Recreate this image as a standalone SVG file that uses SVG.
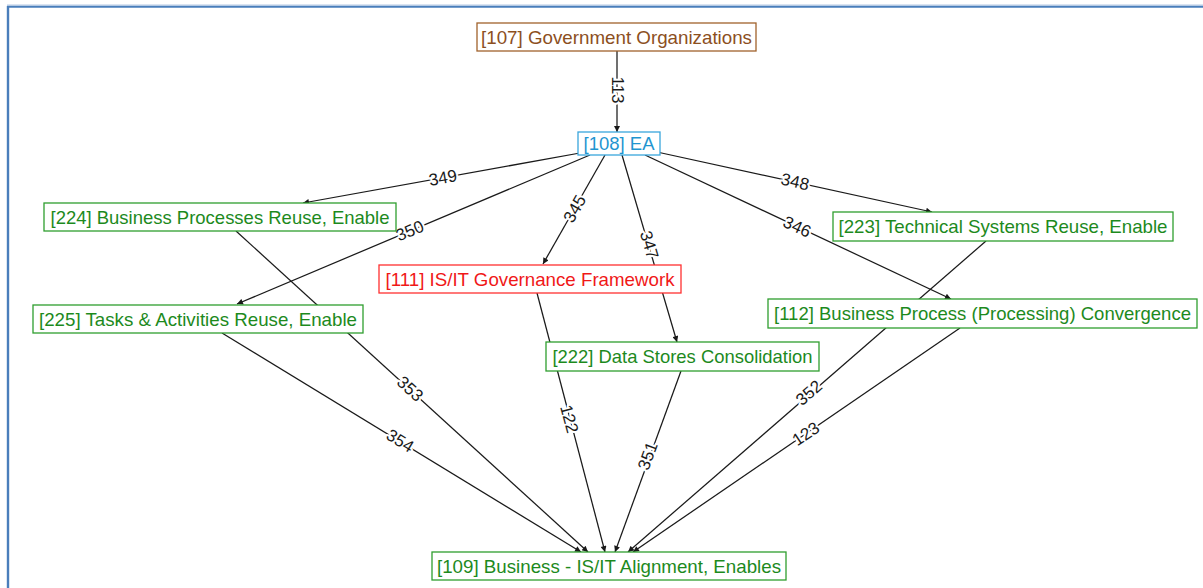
<svg xmlns="http://www.w3.org/2000/svg" width="1203" height="588" viewBox="0 0 1203 588">
  <style>
    .frame { stroke: #4a7ebb; fill: none; }
    .node rect { fill: #ffffff; stroke-width: 1.3; }
    .node text { font-family: "Liberation Sans", Arial, sans-serif; font-size: 18.5px; text-anchor: middle; }
    .brown rect { stroke: #a0622c; } .brown text { fill: #8c4f1e; }
    .blue rect { stroke: #3aa6dc; } .blue text { fill: #1f95d0; }
    .red rect { stroke: #ff3030; } .red text { fill: #f01818; }
    .green rect { stroke: #2f9e2f; } .green text { fill: #1d8a1d; }
    .edge { stroke: #1a1a1a; stroke-width: 1.25; fill: none; marker-end: url(#arrow); }
    .lbl { font-family: "Liberation Sans", Arial, sans-serif; font-size: 17px; fill: #1a1a1a; text-anchor: middle; dominant-baseline: central; stroke: #ffffff; stroke-width: 4; paint-order: stroke; stroke-linejoin: round; }
  </style>
  <defs>
    <marker id="arrow" viewBox="0 0 10 10" refX="10" refY="5" markerWidth="7" markerHeight="6" markerUnits="userSpaceOnUse" orient="auto">
      <path d="M0,0 L10,5 L0,10 z" fill="#1a1a1a"/>
    </marker>
  </defs>

  <rect width="1203" height="588" fill="#ffffff"/>
  <!-- page frame -->
  <line x1="7" y1="5" x2="1203" y2="5" stroke="#b4c8e4" stroke-width="1"/>
  <line class="frame" x1="7" y1="6.8" x2="1203" y2="6.8" stroke-width="2"/>
  <line class="frame" x1="8" y1="6" x2="8" y2="588" stroke-width="2.4"/>

  <g id="connectors">
    <line class="edge" x1="617" y1="51" x2="617" y2="132"/>
    <line class="edge" x1="580" y1="153" x2="303" y2="203"/>
    <line class="edge" x1="590" y1="155" x2="237" y2="304"/>
    <line class="edge" x1="605" y1="155" x2="543" y2="264"/>
    <line class="edge" x1="622" y1="155" x2="677" y2="342"/>
    <line class="edge" x1="657" y1="152" x2="932" y2="212"/>
    <line class="edge" x1="645" y1="155" x2="951" y2="299"/>
    <line class="edge" x1="236" y1="231" x2="588" y2="552"/>
    <line class="edge" x1="222" y1="333" x2="581" y2="552"/>
    <line class="edge" x1="537" y1="293" x2="605" y2="552"/>
    <line class="edge" x1="681" y1="371" x2="615" y2="552"/>
    <line class="edge" x1="986" y1="241" x2="628" y2="552"/>
    <line class="edge" x1="960" y1="328" x2="633" y2="552"/>

    <text class="lbl" transform="translate(617,90) rotate(90)">113</text>
    <text class="lbl" transform="translate(443,178) rotate(-10.2)">349</text>
    <text class="lbl" transform="translate(410,231) rotate(-23)">350</text>
    <text class="lbl" transform="translate(575,209) rotate(-60.4)">345</text>
    <text class="lbl" transform="translate(649,245) rotate(73.6)">347</text>
    <text class="lbl" transform="translate(795,182) rotate(12.3)">348</text>
    <text class="lbl" transform="translate(797,227) rotate(24.7)">346</text>
    <text class="lbl" transform="translate(410,389) rotate(42.3)">353</text>
    <text class="lbl" transform="translate(400,441) rotate(31.3)">354</text>
    <text class="lbl" transform="translate(569,419) rotate(75.2)">122</text>
    <text class="lbl" transform="translate(648,456) rotate(-69.9)">351</text>
    <text class="lbl" transform="translate(809,393) rotate(-41)">352</text>
    <text class="lbl" transform="translate(806,434) rotate(-34)">123</text>
  </g>

  <g id="n107" class="node brown">
    <rect x="477" y="23" width="279" height="28"/>
    <text x="616.5" y="44" textLength="271" lengthAdjust="spacingAndGlyphs">[107] Government Organizations</text>
  </g>
  <g id="n108" class="node blue">
    <rect x="578" y="132" width="82" height="23"/>
    <text x="619" y="150" textLength="71" lengthAdjust="spacingAndGlyphs">[108] EA</text>
  </g>
  <g id="n224" class="node green">
    <rect x="44" y="203" width="352" height="28"/>
    <text x="220" y="224" textLength="339" lengthAdjust="spacingAndGlyphs">[224] Business Processes Reuse, Enable</text>
  </g>
  <g id="n223" class="node green">
    <rect x="833" y="212" width="340" height="29"/>
    <text x="1003" y="233" textLength="329" lengthAdjust="spacingAndGlyphs">[223] Technical Systems Reuse, Enable</text>
  </g>
  <g id="n111" class="node red">
    <rect x="379" y="265" width="302" height="28"/>
    <text x="530" y="286" textLength="289" lengthAdjust="spacingAndGlyphs">[111] IS/IT Governance Framework</text>
  </g>
  <g id="n225" class="node green">
    <rect x="33" y="305" width="330" height="28"/>
    <text x="198" y="326" textLength="318" lengthAdjust="spacingAndGlyphs">[225] Tasks &amp; Activities Reuse, Enable</text>
  </g>
  <g id="n112" class="node green">
    <rect x="768" y="299" width="429" height="29"/>
    <text x="982.5" y="320" textLength="417" lengthAdjust="spacingAndGlyphs">[112] Business Process (Processing) Convergence</text>
  </g>
  <g id="n222" class="node green">
    <rect x="546" y="342" width="273" height="29"/>
    <text x="682.5" y="363" textLength="260" lengthAdjust="spacingAndGlyphs">[222] Data Stores Consolidation</text>
  </g>
  <g id="n109" class="node green">
    <rect x="432" y="552" width="354" height="28"/>
    <text x="609" y="573" textLength="344" lengthAdjust="spacingAndGlyphs">[109] Business - IS/IT Alignment, Enables</text>
  </g>
</svg>
